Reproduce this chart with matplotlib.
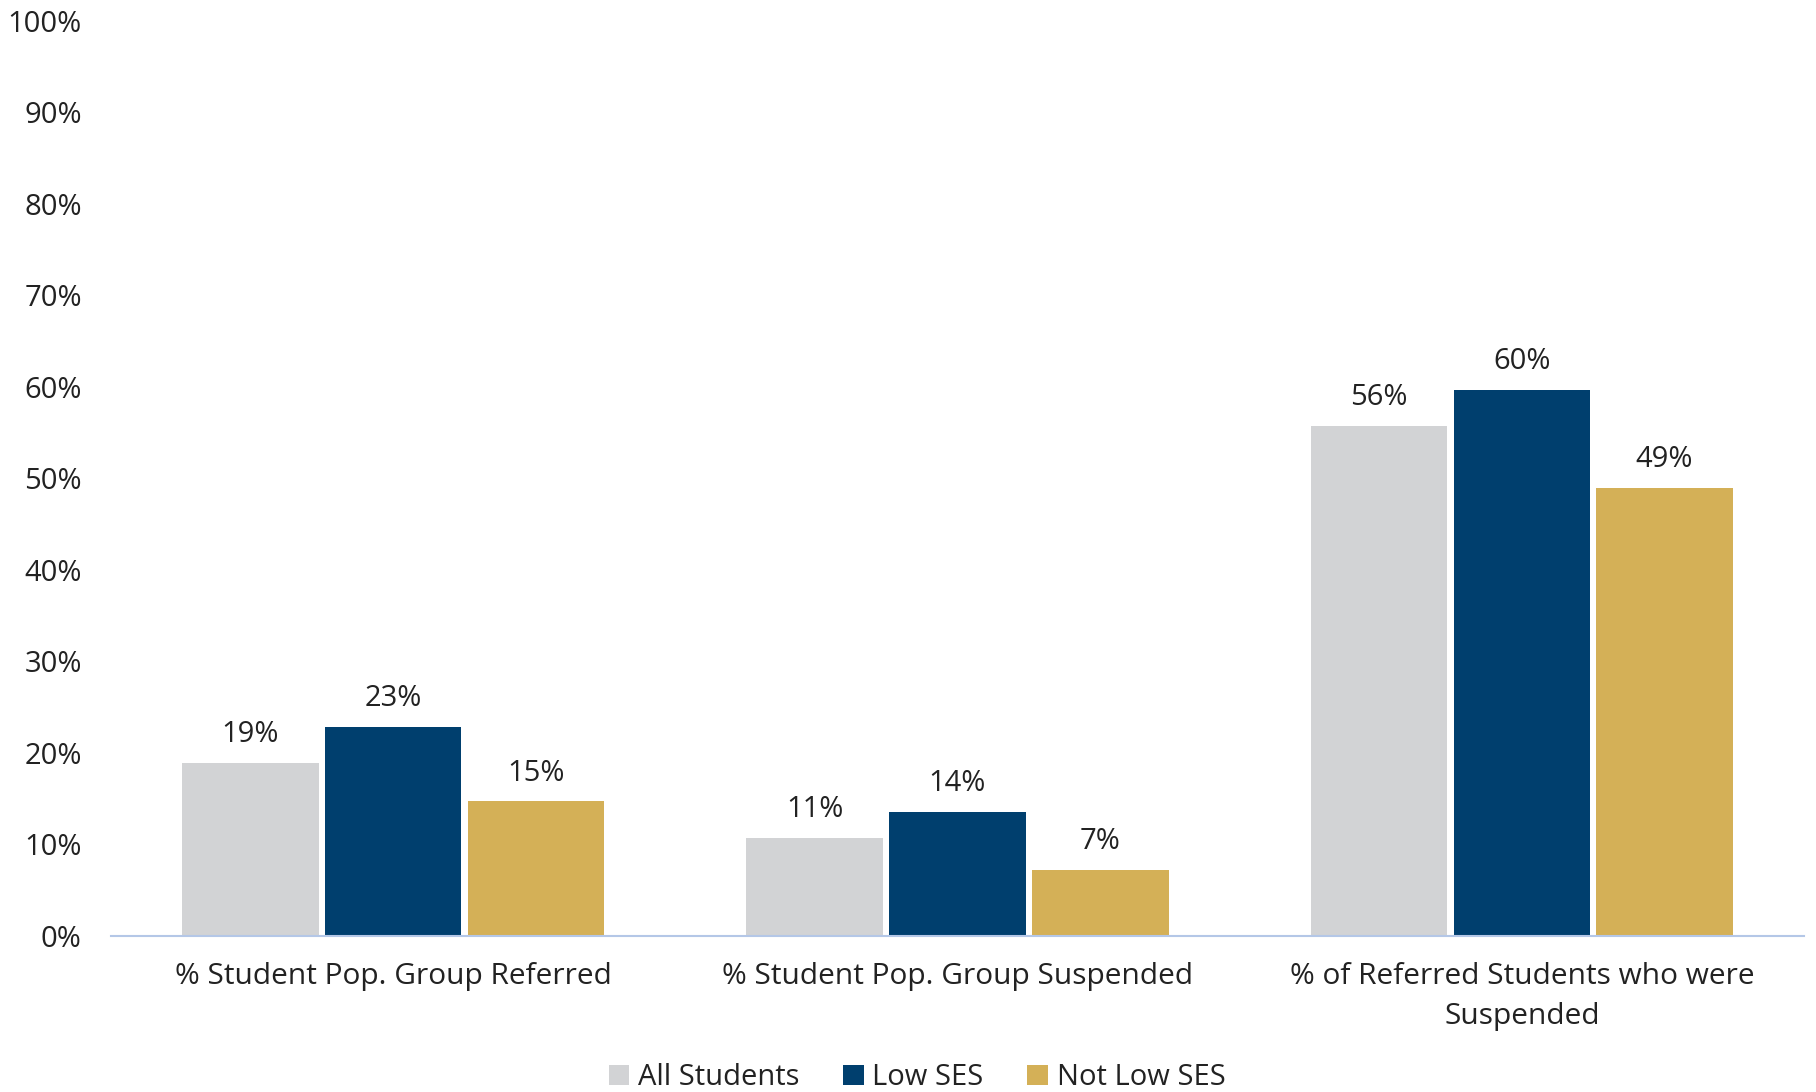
import numpy as np
import matplotlib.pyplot as plt

categories = ['% Student Pop. Group Referred', '% Student Pop. Group Suspended',
              '% of Referred Students who were\nSuspended']
series_names = ['All Students', 'Low SES', 'Not Low SES']
all_students = [18.9, 10.7, 55.7]
low_ses = [22.8, 13.6, 59.7]
not_low_ses = [14.7, 7.2, 49.0]
yticks = [0, 10, 20, 30, 40, 50, 60, 70, 80, 90, 100]

colors = ['#D2D3D5', '#003F6E', '#D4B057']
text_color = '#222222'

plt.rcParams['font.family'] = ['Open Sans', 'DejaVu Sans']

fig = plt.figure(figsize=(18.16, 10.92), dpi=100)
ax = fig.add_axes([0.0611, 0.1429, 0.9323, 0.8379])

x = np.arange(len(categories))
width = 0.242
step = 0.253
series = [all_students, low_ses, not_low_ses]
for i, (name, vals, c) in enumerate(zip(series_names, series, colors)):
    pos = x + (i - 1) * step
    bars = ax.bar(pos, vals, width=width, color=c, label=name, zorder=2)
    for b, v in zip(bars, vals):
        ax.annotate(f'{round(v)}%', (b.get_x() + b.get_width() / 2, v),
                    xytext=(0, 10), textcoords='offset points',
                    ha='center', va='bottom', fontsize=21, color=text_color)

ax.set_xlim(-0.5, 2.5)
ax.set_ylim(0, 100)
ax.set_yticks(yticks)
ax.set_yticklabels([f'{t}%' for t in yticks])
ax.set_xticks(x)
ax.set_xticklabels(categories, linespacing=1.5)
ax.tick_params(axis='y', length=0, pad=21, labelsize=21, labelcolor=text_color)
ax.tick_params(axis='x', length=0, pad=19, labelsize=21.5, labelcolor=text_color)

for s in ['top', 'right', 'left']:
    ax.spines[s].set_visible(False)
ax.spines['bottom'].set_color('#B4C7E7')
ax.spines['bottom'].set_linewidth(1.5)

fig.legend(loc='lower center', bbox_to_anchor=(0.505, -0.024), ncol=3, frameon=False,
           fontsize=21, handlelength=0.7, handleheight=0.7, handletextpad=0.3,
           columnspacing=1.5, labelcolor=text_color)

plt.savefig('out.png', dpi=100)
